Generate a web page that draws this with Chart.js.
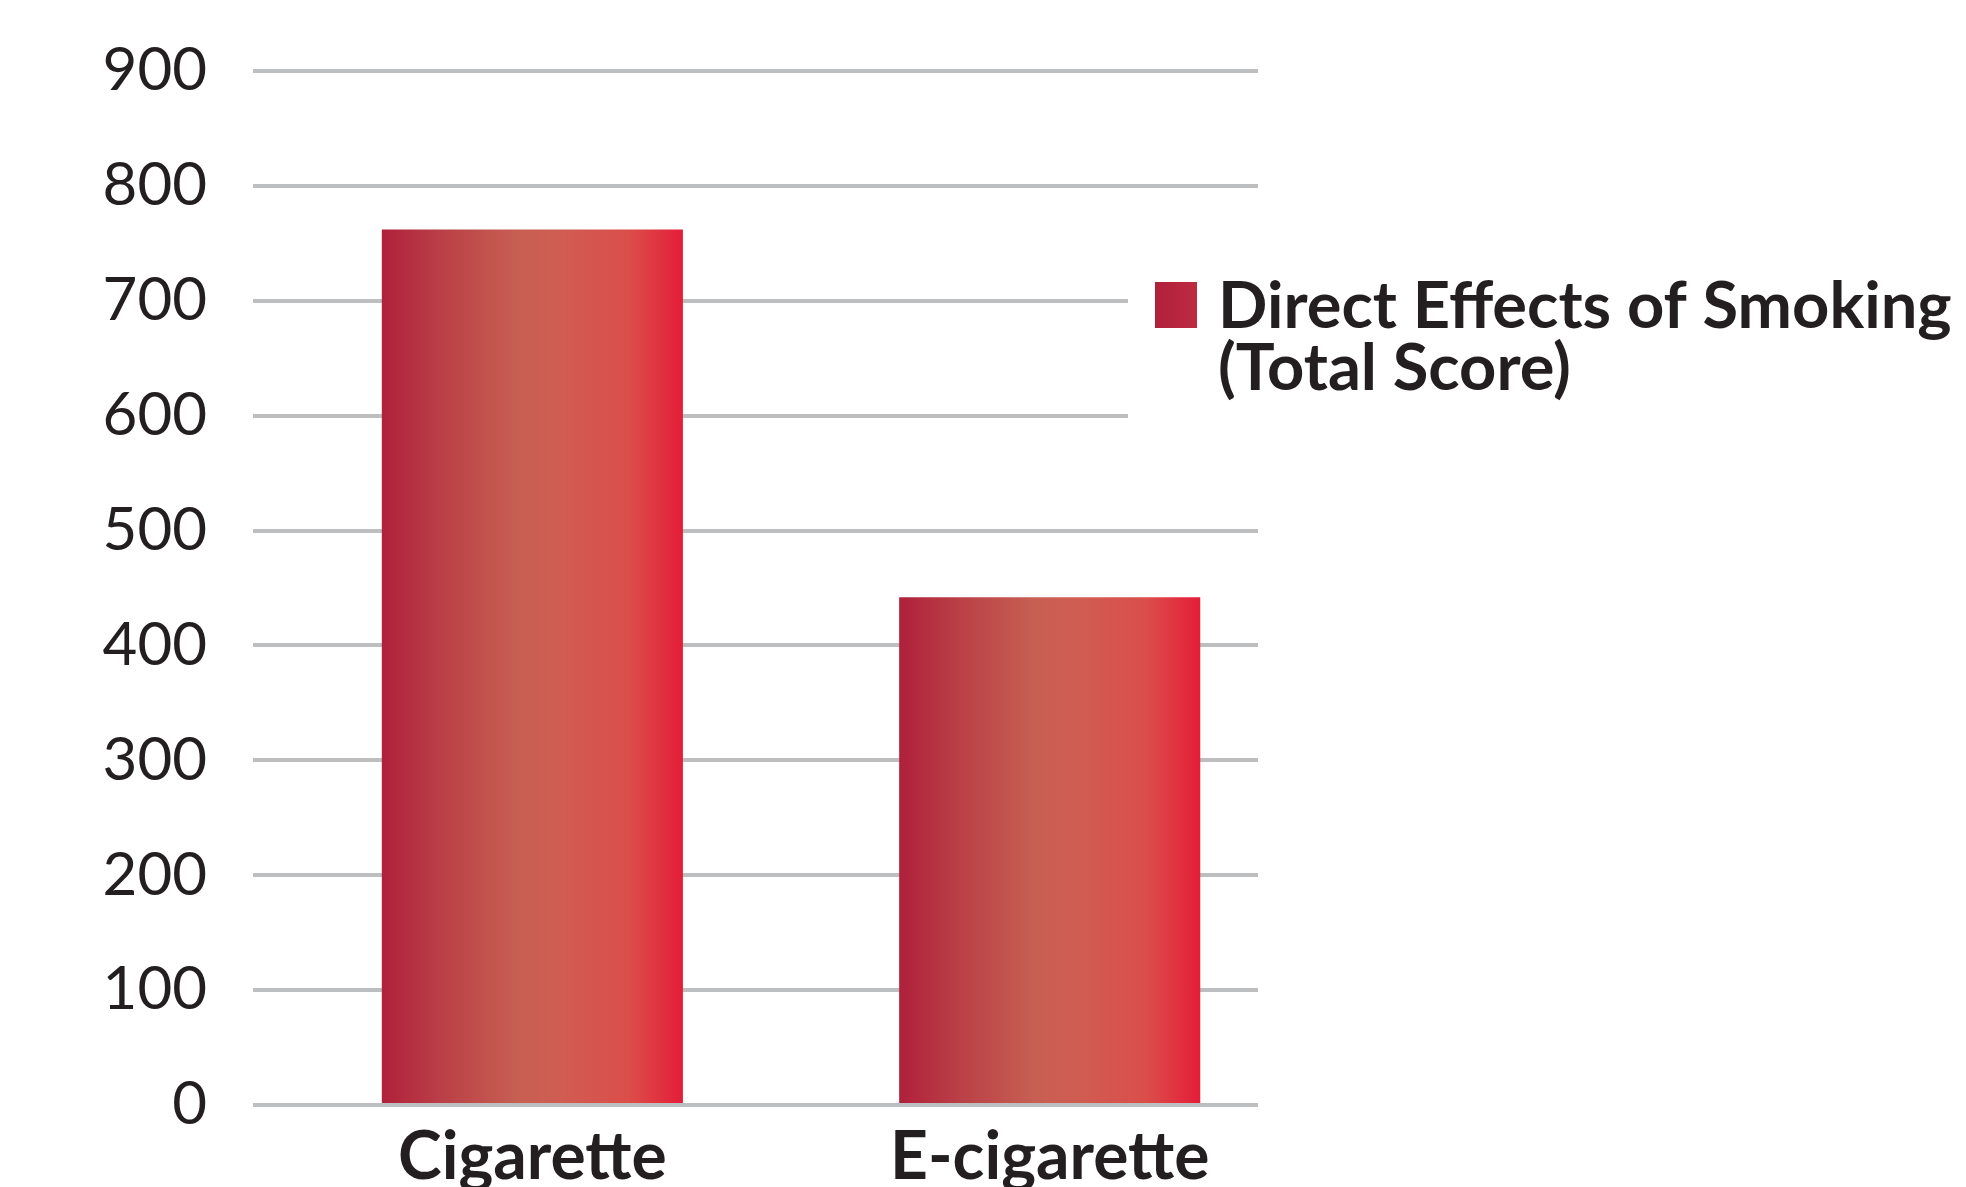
<!DOCTYPE html>
<html>
<head>
<meta charset="utf-8">
<script src="https://cdn.jsdelivr.net/npm/chart.js@4"></script>
<style>
  html, body { margin: 0; padding: 0; background: #fff; }
</style>
</head>
<body>
<canvas id="smoking-chart" width="1966" height="1187"></canvas>
<script>
const categories = ['Cigarette', 'E-cigarette'];
const totalScores = [762, 442];
const seriesLabel = ['Direct Effects of Smoking', '(Total Score)'];

const textColor = '#231f20';
const gridColor = '#bcbec0';
const barPct = 0.582;
// left-to-right shading used on every bar
const barStops = [[0, '#b0203b'], [0.2, '#ba4047'], [0.45, '#c75f52'], [0.6, '#d05c52'], [0.82, '#db4e4a'], [1, '#e41d38']];

function barGradient(context) {
  const chart = context.chart;
  const xScale = chart.scales.x;
  if (!chart.chartArea || !xScale || context.dataIndex === undefined) return barStops[0][1];
  const step = Math.abs(xScale.getPixelForValue(1) - xScale.getPixelForValue(0));
  const half = step * barPct / 2;
  const cx = xScale.getPixelForValue(context.dataIndex);
  const g = chart.ctx.createLinearGradient(cx - half, 0, cx + half, 0);
  barStops.forEach(s => g.addColorStop(s[0], s[1]));
  return g;
}

// legend sits on top of the grid, to the right of the bars
const sideLegend = {
  id: 'sideLegend',
  afterDraw(chart) {
    const ctx = chart.ctx;
    const y = chart.scales.y;
    ctx.save();
    ctx.fillStyle = '#fff';
    const top = y.getPixelForValue(760);
    ctx.fillRect(1128, top, chart.width - 1128, y.getPixelForValue(560) - top);

    const g = ctx.createLinearGradient(1155, 0, 1197, 0);
    g.addColorStop(0, '#b0203b');
    g.addColorStop(1, '#bd2b41');
    ctx.fillStyle = g;
    ctx.fillRect(1155, 282, 42, 46);

    ctx.fillStyle = textColor;
    ctx.font = 'bold 65px Lato';
    ctx.textBaseline = 'alphabetic';
    seriesLabel.forEach((line, i) => ctx.fillText(line, 1218, 328 + i * 62));
    ctx.restore();
  }
};

new Chart(document.getElementById('smoking-chart'), {
  type: 'bar',
  data: {
    datasets: [{
      label: seriesLabel.join(' '),
      data: totalScores.map((v, i) => ({ x: i, y: v })),
      backgroundColor: barGradient,
      borderWidth: 0,
      categoryPercentage: 1,
      barPercentage: barPct
    }]
  },
  options: {
    responsive: false,
    animation: false,
    layout: { padding: { top: 71, right: 708, left: 0, bottom: 0 } },
    plugins: {
      legend: { display: false },
      tooltip: { enabled: false }
    },
    scales: {
      x: {
        type: 'linear',
        offset: false,
        min: -0.54,
        max: 1.4026,
        grid: { display: false },
        border: { display: false },
        afterBuildTicks: (scale) => { scale.ticks = categories.map((c, i) => ({ value: i })); },
        afterFit: (scale) => { scale.height = 82; },
        ticks: {
          autoSkip: false,
          maxRotation: 0,
          padding: 5,
          color: textColor,
          font: { family: 'Lato', size: 66, weight: 'bold' },
          callback: (v) => categories[v]
        }
      },
      y: {
        min: 0,
        max: 900,
        ticks: {
          stepSize: 100,
          padding: 46,
          color: textColor,
          font: { family: 'Lato', size: 60 }
        },
        grid: { color: gridColor, lineWidth: 4, drawTicks: false },
        border: { display: false },
        afterFit: (scale) => {
          scale.width = 253;
          scale.paddingTop = 0;
          scale.paddingBottom = 0;
        }
      }
    }
  },
  plugins: [sideLegend]
});
</script>
</body>
</html>
